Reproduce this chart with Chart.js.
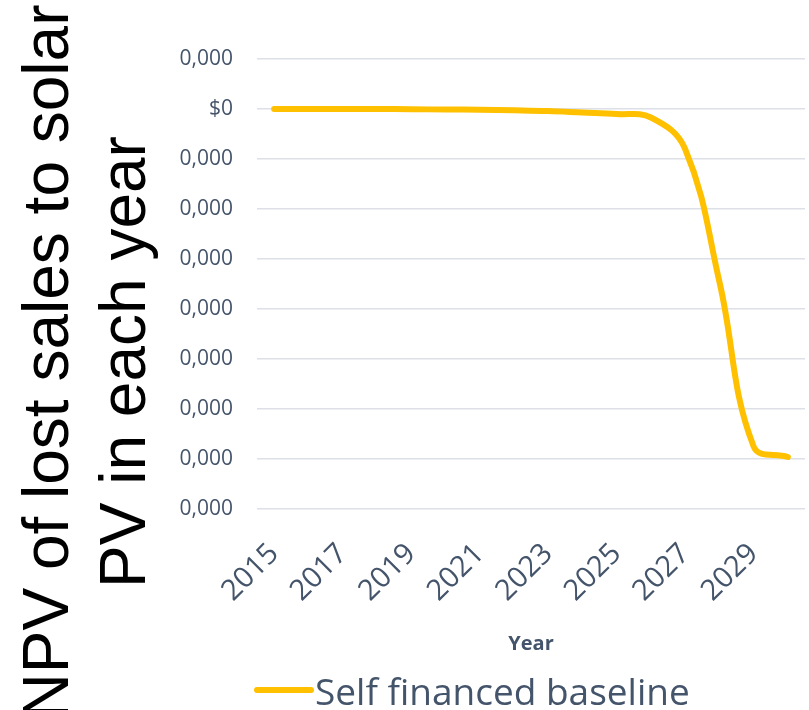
<!DOCTYPE html>
<html>
<head>
<meta charset="utf-8">
<script src="https://cdn.jsdelivr.net/npm/chart.js@4/dist/chart.umd.min.js"></script>
<style>
  html, body { margin: 0; padding: 0; background: #fff; }
  #wrap { width: 809px; height: 710px; position: relative; }
</style>
</head>
<body>
<div id="wrap"><canvas id="npvChart"></canvas></div>
<script>
// years on the x axis
const years = ['2015', '2016', '2017', '2018', '2019', '2020', '2021', '2022',
               '2023', '2024', '2025', '2026', '2027', '2028', '2029', '2030'];
// NPV of lost sales, self financed baseline
const selfFinanced = [0, 0, 0, 0, -0.005, -0.01, -0.015, -0.025,
                      -0.04, -0.07, -0.1, -0.17, -0.8, -3.45, -6.75, -6.96];
// y tick labels from top (1) down to -8
const yTickLabels = ['0,000', '$0', '0,000', '0,000', '0,000', '0,000', '0,000', '0,000', '0,000', '0,000'];
const yTitleLines = ['NPV of lost sales to solar', 'PV in each year'];
const seriesName = 'Self financed baseline';

const gold = '#FFC000';
const slate = '#44546A';

// rotated two-line axis title plus a hand-drawn legend row
const extrasPlugin = {
  id: 'extras',
  afterDraw(chart) {
    const ctx = chart.ctx;
    ctx.save();
    ctx.translate(0, 362);
    ctx.rotate(-Math.PI / 2);
    ctx.fillStyle = '#000';
    ctx.font = '64px "Liberation Sans", Arial, sans-serif';
    ctx.textAlign = 'center';
    ctx.textBaseline = 'alphabetic';
    ctx.fillText(yTitleLines[0], 0, 68);
    ctx.fillText(yTitleLines[1], 0, 145);
    ctx.restore();

    ctx.save();
    ctx.strokeStyle = gold;
    ctx.lineWidth = 6;
    ctx.lineCap = 'round';
    ctx.beginPath();
    ctx.moveTo(257, 690);
    ctx.lineTo(311, 690);
    ctx.stroke();
    ctx.fillStyle = slate;
    ctx.font = '37px "Open Sans", sans-serif';
    ctx.textBaseline = 'alphabetic';
    ctx.fillText(seriesName, 315, 705);
    ctx.restore();
  }
};

new Chart(document.getElementById('npvChart'), {
  type: 'line',
  data: {
    labels: years,
    datasets: [{
      label: seriesName,
      data: selfFinanced,
      borderColor: gold,
      backgroundColor: gold,
      borderWidth: 6,
      borderCapStyle: 'round',
      pointRadius: 0,
      tension: 0.4,
      fill: false
    }]
  },
  options: {
    responsive: true,
    maintainAspectRatio: false,
    animation: false,
    layout: { padding: { top: 59, right: 4, bottom: 0, left: 0 } },
    plugins: {
      legend: { display: false },
      tooltip: { enabled: false }
    },
    scales: {
      x: {
        offset: true,
        grid: { display: false },
        border: { display: false },
        ticks: {
          autoSkip: false,
          maxRotation: 45,
          minRotation: 45,
          padding: 20,
          color: slate,
          font: { family: 'Open Sans', size: 29 },
          callback: (v, i) => (i % 2 === 0 ? years[i] : '')
        },
        title: {
          display: true,
          text: 'Year',
          color: slate,
          font: { family: 'Open Sans', size: 20, weight: 'bold' },
          padding: { top: 4, bottom: 54 }
        },
        afterFit(scale) {
          scale.height = 201;
          scale.paddingLeft = 0;
          scale.paddingRight = 0;
        }
      },
      y: {
        min: -8,
        max: 1,
        grid: { color: '#DDE0E6', lineWidth: 1.5, drawTicks: false },
        border: { display: false },
        ticks: {
          stepSize: 1,
          padding: 24,
          color: slate,
          font: { family: 'Open Sans', size: 21 },
          callback: v => yTickLabels[1 - Math.round(v)]
        },
        afterFit(scale) { scale.width = 257; }
      }
    }
  },
  plugins: [extrasPlugin]
});
</script>
</body>
</html>
